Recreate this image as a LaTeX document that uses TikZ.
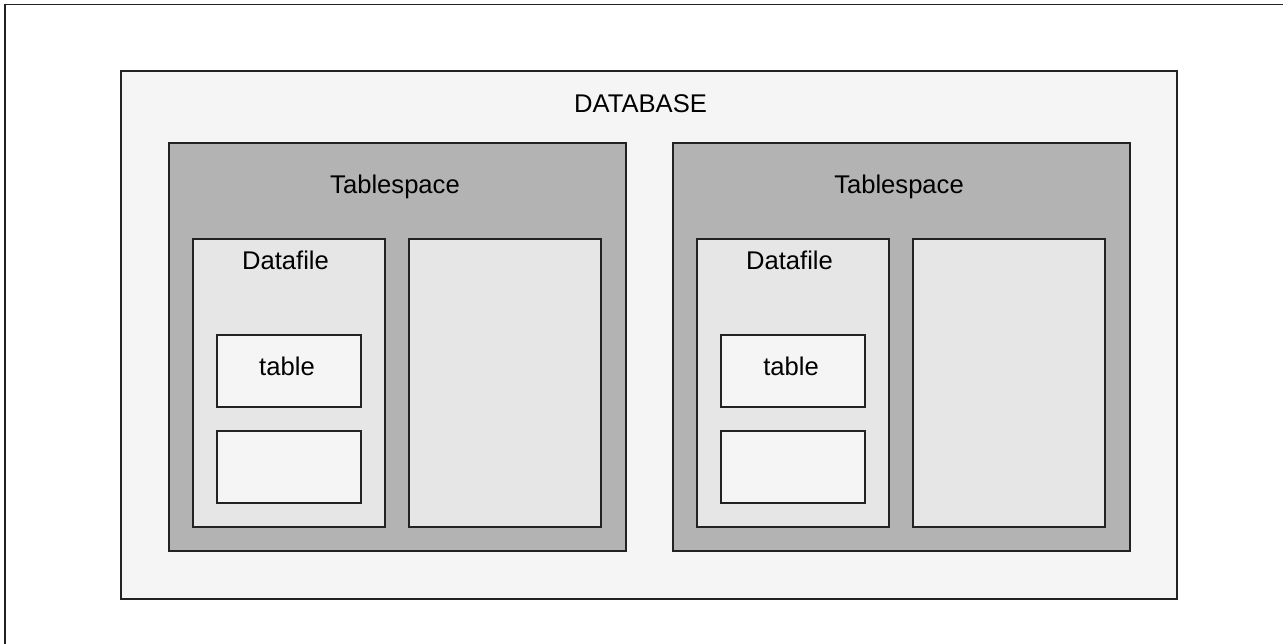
\documentclass[tikz,border=0pt]{standalone}
\usepackage{fontspec}
\setmainfont{Liberation Sans}
\definecolor{dbfill}{HTML}{F5F5F5}
\definecolor{tsfill}{HTML}{B3B3B3}
\definecolor{dffill}{HTML}{E6E6E6}
\definecolor{edge}{HTML}{222222}
\begin{document}
\begin{tikzpicture}[x=1pt,y=-1pt,
  box/.style={draw=edge,line width=1.6pt,inner sep=0pt,outer sep=0pt,rectangle},
  dbbox/.style={box,fill=dbfill},
  tsbox/.style={box,fill=tsfill},
  dfbox/.style={box,fill=dffill},
  tbbox/.style={box,fill=dbfill},
  lbl/.style={font=\fontsize{25.6}{30}\selectfont,anchor=base,inner sep=0pt,text=black}]
\useasboundingbox (0,0) rectangle (1283,644);
\fill[white] (0,0) rectangle (1283,644);
\coordinate (ftl) at (5,4.5);
\coordinate (ftr) at (1283,4.5);
\coordinate (fbl) at (5,644);
\draw[edge,line width=1.6pt] (fbl) -- (ftl) -- (ftr);
% database
\node[dbbox,minimum width=1056pt,minimum height=528pt] (db) at (649,335) {};
\node[lbl] (dbl) at (640.5,112.7) {DATABASE};
% columns
\foreach \i/\dx in {1/0,2/504}{
  \node[tsbox,minimum width=457pt,minimum height=408pt] (ts\i) at (397.5+\dx,347) {};
  \node[lbl] (tsl\i) at (395+\dx,193.3) {Tablespace};
  \node[dfbox,minimum width=192pt,minimum height=288pt] (df\i) at (289+\dx,383) {};
  \node[lbl] (dfl\i) at (285.5+\dx,269.3) {Datafile};
  \node[dfbox,minimum width=192pt,minimum height=288pt] (rb\i) at (505+\dx,383) {};
  \node[tbbox,minimum width=144pt,minimum height=72pt] (tb\i) at (289+\dx,371) {};
  \node[lbl] (tbl\i) at (287+\dx,375.3) {table};
  \node[tbbox,minimum width=144pt,minimum height=72pt] (eb\i) at (289+\dx,467) {};
}
\end{tikzpicture}
\end{document}
